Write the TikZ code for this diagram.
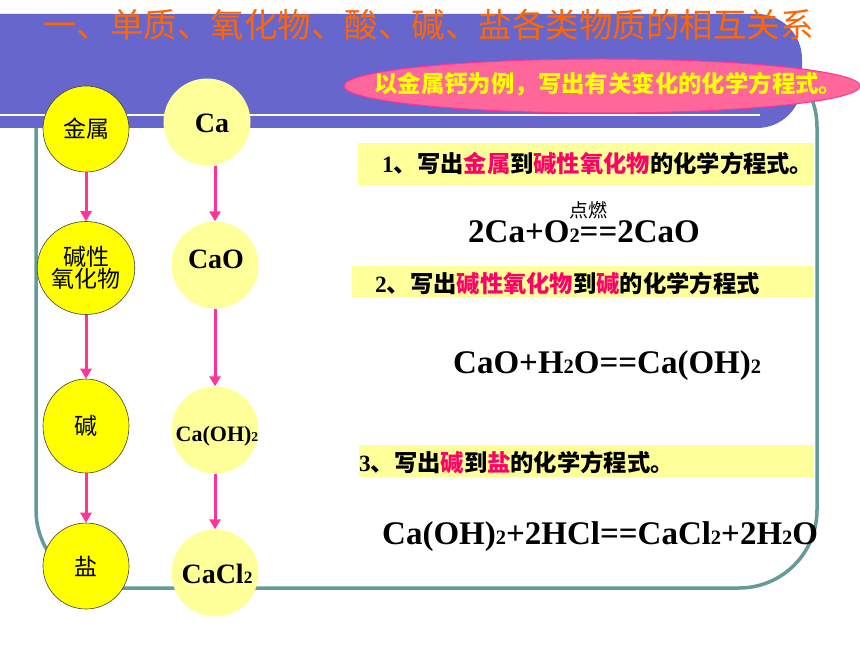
\documentclass[tikz,border=0pt]{standalone}
\usepackage{fontspec}
\usepackage{graphicx}
\setmainfont{Liberation Serif}
\newfontfamily\cjk{Noto Sans CJK SC}
\usetikzlibrary{arrows.meta,shapes.geometric}
\definecolor{purp}{HTML}{6666CC}
\definecolor{tealc}{HTML}{669999}
\definecolor{pinkell}{HTML}{FF6699}
\definecolor{pinkbd}{HTML}{FF3399}
\definecolor{arrc}{HTML}{FF3399}
\definecolor{yelc}{HTML}{FFFF00}
\definecolor{lyel}{HTML}{FFFF99}
\definecolor{redt}{HTML}{FF0066}
\definecolor{titc}{HTML}{FF6600}
\newcommand\sbt[1]{\scalebox{0.62}{#1}}
\begin{document}
\begin{tikzpicture}[x=1bp,y=-1bp,
  ycirc/.style={circle,fill=yelc,draw=black!75,line width=0.6bp,minimum size=86bp,inner sep=0pt,
     font=\cjk\fontsize{23bp}{22bp}\selectfont,align=center},
  yell/.style={ellipse,fill=yelc,draw=black!75,line width=0.6bp,minimum width=86bp,inner sep=0pt,
     font=\cjk\fontsize{23bp}{22bp}\selectfont,align=center},
  lcirc/.style={circle,fill=lyel,minimum size=87bp,inner sep=0pt},
  ctext/.style={inner sep=0pt,font=\rmfamily\bfseries\fontsize{28bp}{30bp}\selectfont},
  arr/.style={draw=arrc,line width=3bp,-{Triangle[width=11bp,length=10bp]}},
  ybox/.style={fill=lyel,inner sep=0pt,anchor=north west},
  btext/.style={inner sep=0pt,anchor=west,font=\cjk\bfseries\fontsize{23.3bp}{25bp}\selectfont},
  eqn/.style={inner sep=0pt,anchor=base west,font=\rmfamily\bfseries\fontsize{33bp}{36bp}\selectfont}]
\fill[white] (0,0) rectangle (860,645);
\useasboundingbox (0,0) rectangle (860,645);
% teal frame
\draw[tealc,line width=3.5bp,rounded corners=78bp] (36,49) rectangle (817,588);
% purple header bar
\fill[purp] (0,14) -- (700,14) [rounded corners=45bp] -- (802,14) -- (802,128) -- (700,128) [sharp corners] -- (0,128) -- cycle;
\draw[white,line width=2bp] (0,115) -- (760,115);
% title
\node[inner sep=0pt,anchor=west,text=titc,font=\cjk\fontsize{33.5bp}{36bp}\selectfont] (title) at (43,25) {一、单质、氧化物、酸、碱、盐各类物质的相互关系};
% pink ellipse
\node[ellipse,fill=pinkell,draw=pinkbd,line width=1bp,minimum width=516bp,minimum height=54bp,inner sep=0pt] (tip) at (602,86) {};
\node[inner sep=0pt,anchor=west,text=yelc,font=\cjk\bfseries\fontsize{23.4bp}{25bp}\selectfont] (tiptext) at (374,84) {以金属钙为例，写出有关变化的化学方程式。};
% left column
\node[ycirc] (n1) at (86,129) {金属};
\node[yell,minimum height=93bp] (n2) at (86,268) {碱性\\氧化物};
\node[yell,minimum height=94bp] (n3) at (86,426) {碱};
\node[ycirc] (n4) at (86,566) {盐};
\draw[arr] (n1) -- (n2);
\draw[arr] (n2) -- (n3);
\draw[arr] (n3) -- (n4);
% right column
\node[lcirc] (c1) at (207,122) {};
\node[lcirc] (c2) at (215,265) {};
\node[lcirc] (c3) at (215,430) {};
\node[lcirc] (c4) at (215,573) {};
\node[ctext] (t1) at (212,123) {Ca};
\node[ctext] (t2) at (216,259) {CaO};
\node[ctext,font=\rmfamily\bfseries\fontsize{22bp}{24bp}\selectfont] (t3) at (217,436) {Ca(OH)\sbt{2}};
\node[ctext] (t4) at (217,574) {CaCl\sbt{2}};
\draw[arr] (c2.north |- c1.south) -- (c2.north);
\draw[arr] (c2) -- (c3);
\draw[arr] (c3) -- (c4);
% yellow boxes
\node[ybox,minimum width=456bp,minimum height=42bp] (b1) at (358,143) {};
\node[btext] (b1t) at (382,164) {{\rmfamily 1}、写出\textcolor{redt}{金属}到\textcolor{redt}{碱性氧化物}的化学方程式。};
\node[ybox,minimum width=462bp,minimum height=31bp] (b2) at (352,266) {};
\node[btext] (b2t) at (375,284) {{\rmfamily 2}、写出\textcolor{redt}{碱性氧化物}到\textcolor{redt}{碱}的化学方程式};
\node[ybox,minimum width=455bp,minimum height=32bp] (b3) at (359,445) {};
\node[btext] (b3t) at (359,463) {{\rmfamily 3}、写出\textcolor{redt}{碱}到\textcolor{redt}{盐}的化学方程式。};
% equations
\node[inner sep=0pt,font=\cjk\fontsize{19bp}{20bp}\selectfont] (cond) at (588,210) {点燃};
\node[eqn] (e1) at (468,243) {2Ca+O\sbt{2}==2CaO};
\node[eqn] (e2) at (453,373) {CaO+H\sbt{2}O==Ca(OH)\sbt{2}};
\node[eqn] (e3) at (382,544) {Ca(OH)\sbt{2}+2HCl==CaCl\sbt{2}+2H\sbt{2}O};
\end{tikzpicture}
\end{document}
